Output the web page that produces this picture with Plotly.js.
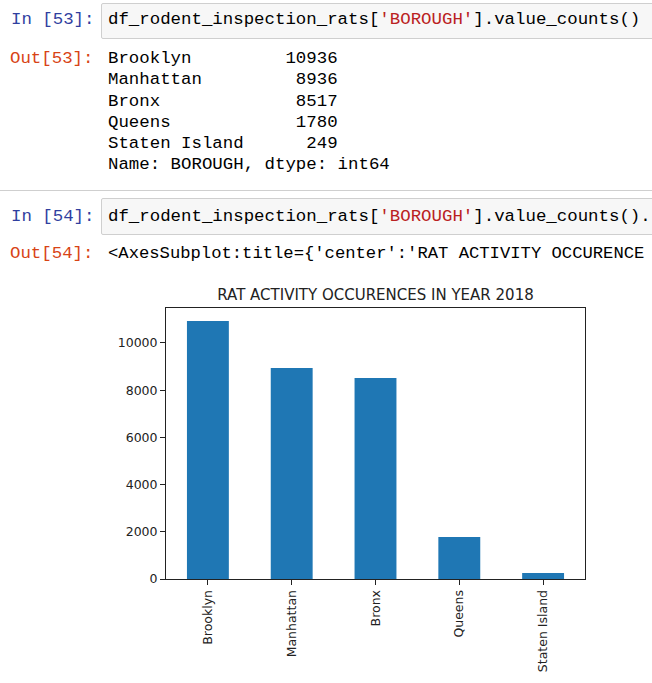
<!DOCTYPE html>
<html>
<head>
<meta charset="utf-8">
<script src="https://cdn.plot.ly/plotly-3.0.1.min.js"></script>
<style>
  html, body { margin: 0; padding: 0; background: #fff; width: 652px; height: 683px; overflow: hidden; }
  #chart { position: absolute; left: 0; top: 0; width: 652px; height: 683px; }
  .nb { position: absolute; font-family: "Liberation Mono", "Courier New", monospace; font-size: 17.4px; line-height: 21.3px; white-space: pre; color: #000; z-index: 2; }
  .pin { color: #303F9F; }
  .pout { color: #D84315; }
  .str { color: #BA2121; }
  .box { position: absolute; left: 101px; width: 560px; background: #f7f7f7; border: 1px solid #cfcfcf; border-radius: 2px; z-index: 1; }
  .sep { position: absolute; left: 0; width: 652px; height: 0; border-top: 1px solid #cfcfcf; z-index: 1; }
</style>
</head>
<body>
<div id="chart"></div>

<div class="box" style="top:3px; height:34px;"></div>
<div class="nb pin" style="left:11px; top:9px;">In [53]:</div>
<div class="nb" style="left:108px; top:9px;">df_rodent_inspection_rats[<span class="str">'BOROUGH'</span>].value_counts()</div>

<div class="nb pout" style="left:10px; top:48px;">Out[53]:</div>
<div class="nb" id="vc" style="left:108px; top:48px;"></div>

<div class="sep" style="top:190px;"></div>

<div class="box" style="top:198px; height:35px;"></div>
<div class="nb pin" style="left:11px; top:206px;">In [54]:</div>
<div class="nb" style="left:108px; top:206px;">df_rodent_inspection_rats[<span class="str">'BOROUGH'</span>].value_counts().</div>

<div class="nb pout" style="left:10px; top:243px;">Out[54]:</div>
<div class="nb" style="left:108px; top:243px; font-size:17.2px;">&lt;AxesSubplot:title={'center':'RAT ACTIVITY OCCURENCE</div>

<script>
// Data
const boroughs = ["Brooklyn", "Manhattan", "Bronx", "Queens", "Staten Island"];
const counts = [10936, 8936, 8517, 1780, 249];
const yTicks = [0, 2000, 4000, 6000, 8000, 10000];
const chartTitle = "RAT ACTIVITY OCCURENCES IN YEAR 2018";
const seriesName = "BOROUGH";
const dtypeName = "int64";

// value_counts() text output (pandas-style padding)
const labelWidth = Math.max(...boroughs.map(b => b.length));
const numWidth = Math.max(...counts.map(c => String(c).length));
const lines = boroughs.map((b, i) => {
  const num = String(counts[i]);
  return b + " ".repeat(labelWidth - b.length + 4 + numWidth - num.length) + num;
});
lines.push("Name: " + seriesName + ", dtype: " + dtypeName);
document.getElementById("vc").textContent = lines.join("\n");

const ymax = Math.max(...counts) * 1.05;

const trace = {
  type: "bar",
  x: boroughs,
  y: counts,
  width: 0.5,
  marker: { color: "#1f77b4", line: { width: 0 } },
  hoverinfo: "skip"
};

const layout = {
  width: 652,
  height: 683,
  margin: { l: 166, r: 67, t: 308, b: 104, pad: 0 },
  paper_bgcolor: "rgba(0,0,0,0)",
  plot_bgcolor: "#ffffff",
  showlegend: false,
  font: { family: "DejaVu Sans", size: 12.5, color: "#222" },
  title: {
    text: chartTitle,
    font: { family: "DejaVu Sans", size: 15, color: "#222" },
    x: 0.5, xanchor: "center", xref: "paper",
    y: 1 - 295 / 683, yanchor: "middle", yref: "container"
  },
  xaxis: {
    type: "category",
    range: [-0.5, boroughs.length - 0.5],
    tickangle: -90,
    ticks: "outside", ticklen: 5, tickwidth: 1, tickcolor: "#222",
    showline: true, linecolor: "#222", linewidth: 1, mirror: true,
    showgrid: false, zeroline: false,
    tickfont: { family: "DejaVu Sans", size: 12.5, color: "#222" }
  },
  yaxis: {
    range: [0, ymax],
    tickmode: "array", tickvals: yTicks, ticktext: yTicks.map(String),
    ticks: "outside", ticklen: 5, tickwidth: 1, tickcolor: "#222",
    showline: true, linecolor: "#222", linewidth: 1, mirror: true,
    showgrid: false, zeroline: false,
    tickfont: { family: "DejaVu Sans", size: 12.5, color: "#222" }
  }
};

Plotly.newPlot("chart", [trace], layout, { staticPlot: true, displayModeBar: false });
</script>
</body>
</html>
